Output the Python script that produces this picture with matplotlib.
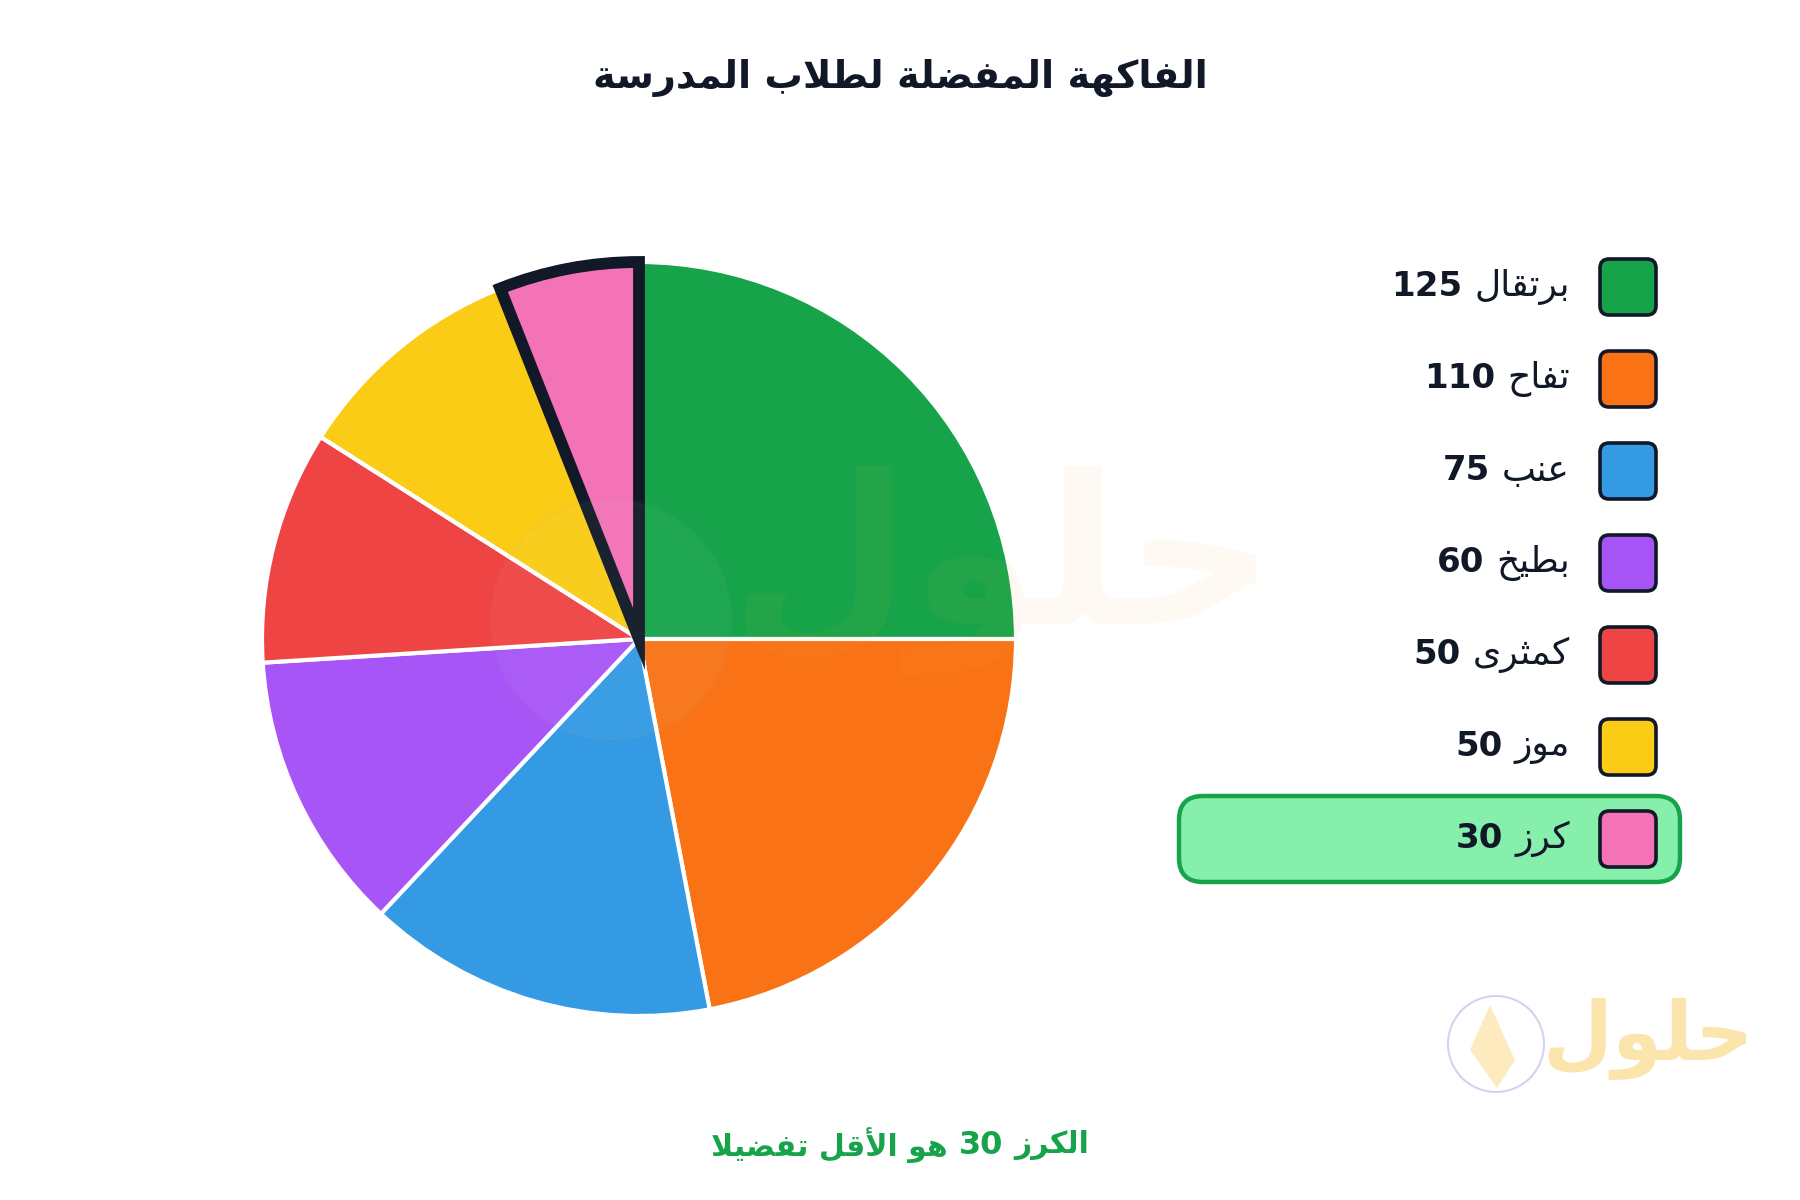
import matplotlib
matplotlib.use("Agg")
import matplotlib.pyplot as plt
from matplotlib.patches import FancyBboxPatch, Circle, Polygon

# data
fruits = ['برتقال', 'تفاح', 'عنب', 'بطيخ', 'كمثرى', 'موز', 'كرز']
votes = [125, 110, 75, 60, 50, 50, 30]
colors = ['#16a34a', '#f97316', '#339ae3', '#a855f7', '#ef4444', '#facc15', '#f472b6']
highlight = 6
title = 'الفاكهة المفضلة لطلاب المدرسة'
note_left = 'هو الأقل تفضيلا'
note_right = 'الكرز'

DARK = '#111827'

# simple arabic shaping (matplotlib has no bidi / joining support)
AR_BASE = {
    'ء': (0xFE80, 1), 'آ': (0xFE81, 2), 'أ': (0xFE83, 2), 'ؤ': (0xFE85, 2), 'إ': (0xFE87, 2),
    'ئ': (0xFE89, 4), 'ا': (0xFE8D, 2), 'ب': (0xFE8F, 4), 'ة': (0xFE93, 2), 'ت': (0xFE95, 4),
    'ث': (0xFE99, 4), 'ج': (0xFE9D, 4), 'ح': (0xFEA1, 4), 'خ': (0xFEA5, 4), 'د': (0xFEA9, 2),
    'ذ': (0xFEAB, 2), 'ر': (0xFEAD, 2), 'ز': (0xFEAF, 2), 'س': (0xFEB1, 4), 'ش': (0xFEB5, 4),
    'ص': (0xFEB9, 4), 'ض': (0xFEBD, 4), 'ط': (0xFEC1, 4), 'ظ': (0xFEC5, 4), 'ع': (0xFEC9, 4),
    'غ': (0xFECD, 4), 'ف': (0xFED1, 4), 'ق': (0xFED5, 4), 'ك': (0xFED9, 4), 'ل': (0xFEDD, 4),
    'م': (0xFEE1, 4), 'ن': (0xFEE5, 4), 'ه': (0xFEE9, 4), 'و': (0xFEED, 2), 'ى': (0xFEEF, 2),
    'ي': (0xFEF1, 4),
}
LAM_ALEF = {'آ': 0xFEF5, 'أ': 0xFEF7, 'إ': 0xFEF9, 'ا': 0xFEFB}


def shape_word(w):
    items = []
    i = 0
    while i < len(w):
        if w[i] == 'ل' and i + 1 < len(w) and w[i + 1] in LAM_ALEF:
            items.append(('LA', w[i + 1]))
            i += 2
        else:
            items.append(('C', w[i]))
            i += 1

    def joins_fwd(it):
        return it[0] == 'C' and it[1] in AR_BASE and AR_BASE[it[1]][1] == 4

    def is_ar(it):
        return it[0] == 'LA' or it[1] in AR_BASE

    out = []
    for k, it in enumerate(items):
        prev_j = k > 0 and joins_fwd(items[k - 1])
        if it[0] == 'LA':
            out.append(chr(LAM_ALEF[it[1]] + (1 if prev_j else 0)))
            continue
        c = it[1]
        if c not in AR_BASE:
            out.append(c)
            continue
        base, n = AR_BASE[c]
        next_j = n == 4 and k + 1 < len(items) and is_ar(items[k + 1])
        if n == 1:
            form = 0
        elif prev_j and next_j:
            form = 3
        elif prev_j:
            form = 1
        elif next_j:
            form = 2
        else:
            form = 0
        out.append(chr(base + form))
    return ''.join(reversed(out))


def rtl(text):
    words = text.split(' ')
    return ' '.join(shape_word(w) if any(ch in AR_BASE for ch in w) else w
                    for w in reversed(words))


AR_FONT = ['DejaVu Sans']

fig = plt.figure(figsize=(18, 12), dpi=100)
ax = fig.add_axes([0, 0, 1, 1])

# pie (pixel coords, y up)
wedges, _ = ax.pie(votes, colors=colors, startangle=90, counterclock=False,
                   center=(639, 561), radius=377,
                   wedgeprops=dict(edgecolor='white', linewidth=3))
wedges[highlight].set_edgecolor(DARK)
wedges[highlight].set_linewidth(8.5)
wedges[highlight].set_joinstyle('miter')
wedges[highlight].set_zorder(5)

ax.set_xlim(0, 1800)
ax.set_ylim(0, 1200)
ax.set_aspect('equal')
ax.axis('off')

# faint watermarks
ax.add_patch(Circle((611, 580), 120, facecolor='#f3f4f6', edgecolor='#9ca3af',
                    alpha=0.045, lw=3, zorder=6))
ax.text(1003, 630, rtl('حلول'), fontsize=150, family=AR_FONT, weight='bold',
        color='#f6b73c', alpha=0.06, ha='center', va='center', zorder=6)
ax.add_patch(Circle((1496, 156), 48, facecolor='white', edgecolor='#d4d2ee',
                    lw=1.5, zorder=2))
ax.add_patch(Polygon([(1470, 150), (1490, 195), (1515, 140), (1497, 112)],
                     closed=True, facecolor='#fde7b0', edgecolor='none', alpha=0.8,
                     zorder=3))
ax.text(1648, 162, rtl('حلول'), fontsize=58, family=AR_FONT, weight='bold',
        color='#fcd98a', alpha=0.7, ha='center', va='center', zorder=2)

# title
ax.text(900, 1122, rtl(title), fontsize=27.5, family=AR_FONT, weight='bold',
        color=DARK, ha='center', va='center')

# legend
fig.canvas.draw()
renderer = fig.canvas.get_renderer()
inv = ax.transData.inverted()


def text_width(t):
    bb = t.get_window_extent(renderer=renderer)
    p0 = inv.transform((bb.x0, bb.y0))
    p1 = inv.transform((bb.x1, bb.y1))
    return p1[0] - p0[0]


row_top = 287
row_step = 92
label_right = 1570
for i, (name, v, c) in enumerate(zip(fruits, votes, colors)):
    yc = 1200 - (row_top + row_step * i)
    if i == highlight:
        ax.add_patch(FancyBboxPatch((1179, yc - 43), 501, 86,
                                    boxstyle='round,pad=0,rounding_size=24',
                                    facecolor='#86efac', edgecolor='#16a34a',
                                    lw=3.2, zorder=2))
    ax.add_patch(FancyBboxPatch((1600, yc - 28), 56, 56,
                                boxstyle='round,pad=0,rounding_size=9',
                                facecolor=c, edgecolor=DARK, lw=2.6, zorder=3))
    t = ax.text(label_right, yc, rtl(name), fontsize=26, family=AR_FONT,
                color=DARK, ha='right', va='center', zorder=4)
    w = text_width(t)
    ax.text(label_right - w - 12, yc, str(v), fontsize=24.5, family=AR_FONT,
            weight='bold', color=DARK, ha='right', va='center', zorder=4)

# footnote, centred as a whole
yf = 1200 - 1145
green = '#16a34a'
parts = [ax.text(0, yf, rtl(note_right), fontsize=21.5, family=AR_FONT,
                 weight='bold', color=green, ha='right', va='center'),
         ax.text(0, yf, str(votes[highlight]), fontsize=23, family=AR_FONT,
                 weight='bold', color=green, ha='right', va='center'),
         ax.text(0, yf, rtl(note_left), fontsize=21.5, family=AR_FONT,
                 weight='bold', color=green, ha='right', va='center')]
gap = 11
widths = [text_width(p) for p in parts]
x = 900 + (sum(widths) + gap * 2) / 2
for p, w in zip(parts, widths):
    p.set_x(x)
    x -= w + gap

fig.savefig('out.png', dpi=100, facecolor='white')
